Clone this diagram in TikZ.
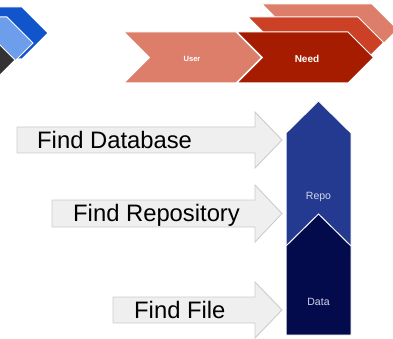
\documentclass[tikz,border=0pt]{standalone}
\usepackage{fontspec}
\setmainfont{Liberation Sans}
\definecolor{cornflowerdark}{HTML}{1155CC}
\definecolor{cornflowerlight}{HTML}{6D9EEB}
\definecolor{charcoal}{HTML}{333333}
\definecolor{berrylight}{HTML}{DD7E6B}
\definecolor{berry}{HTML}{CC4125}
\definecolor{berrydark}{HTML}{A61C00}
\definecolor{repoblue}{HTML}{243A90}
\definecolor{datanavy}{HTML}{040B4D}
\definecolor{arrowfill}{HTML}{EFEFEF}
\definecolor{arrowedge}{HTML}{CCCCCC}
\definecolor{softwhite}{HTML}{D4D8E6}
\tikzset{
  shapeedge/.style={draw=white, line width=1pt, line join=miter},
  grayarrow/.style={fill=arrowfill, draw=arrowedge, line width=0.9pt},
  biglabel/.style={font=\fontsize{23.8}{26}\selectfont, text=black, anchor=base west, inner sep=0pt},
  chevlabel/.style={font=\bfseries, text=white, inner sep=0pt},
  collabel/.style={font=\fontsize{10.5}{12}\selectfont, text=softwhite, inner sep=0pt},
}
\begin{document}
\begin{tikzpicture}[x=1pt, y=-1pt]
\useasboundingbox (0,0) rectangle (393,339);
\begin{scope}
\clip (0,0) rectangle (393,339);

% corner chevrons, top left
\fill[cornflowerdark, shapeedge] (-90,7) -- (22,7) -- (48,33) -- (22,59) -- (-90,59) -- cycle;
\fill[cornflowerlight, shapeedge] (-100,17) -- (7,17) -- (33,43) -- (7,69) -- (-100,69) -- cycle;
\fill[charcoal, shapeedge] (-120,34) -- (-11,34) -- (15,60) -- (-11,86) -- (-120,86) -- cycle;

% stacked red chevrons
\fill[berrylight, shapeedge] (262,4) -- (372,4) -- (397.5,29.5) -- (372,55) -- (262,55) -- (287.5,29.5) -- cycle;
\fill[berry, shapeedge] (248,17) -- (358,17) -- (383.5,42.5) -- (358,68) -- (248,68) -- (273.5,42.5) -- cycle;
\fill[berrylight, shapeedge] (124,32) -- (236,32) -- (261.5,57.5) -- (236,83) -- (124,83) -- (149.5,57.5) -- cycle;
\fill[berrydark, shapeedge] (237,32) -- (348,32) -- (373.5,57.5) -- (348,83) -- (237,83) -- (262.5,57.5) -- cycle;
\node[chevlabel, font=\fontsize{7.6}{9}\selectfont\bfseries] (user) at (192,58.5) {User};
\node[chevlabel, font=\fontsize{10}{12}\selectfont\bfseries] (need) at (307,58.5) {Need};

% stacked column
\fill[repoblue, shapeedge] (286,133) -- (318.5,101) -- (351,133) -- (351,250) -- (286,250) -- cycle;
\fill[datanavy, shapeedge] (286,246) -- (318.5,214) -- (351,246) -- (351,335) -- (286,335) -- cycle;
\node[collabel] (repo) at (318.5,197) {Repo};
\node[collabel] (data) at (318.5,302) {Data};

% gray block arrows
\filldraw[grayarrow] (17,127) -- (255,127) -- (255,112) -- (282,140) -- (255,168) -- (255,153) -- (17,153) -- cycle;
\filldraw[grayarrow] (52,200) -- (255,200) -- (255,185) -- (282,213.5) -- (255,242) -- (255,227) -- (52,227) -- cycle;
\filldraw[grayarrow] (113,297) -- (255,297) -- (255,282) -- (282,310) -- (255,338) -- (255,323) -- (113,323) -- cycle;
\node[biglabel] (finddb) at (37,149) {Find Database};
\node[biglabel] (findrepo) at (73,221.5) {Find Repository};
\node[biglabel] (findfile) at (134,318) {Find File};
\end{scope}
\end{tikzpicture}
\end{document}
